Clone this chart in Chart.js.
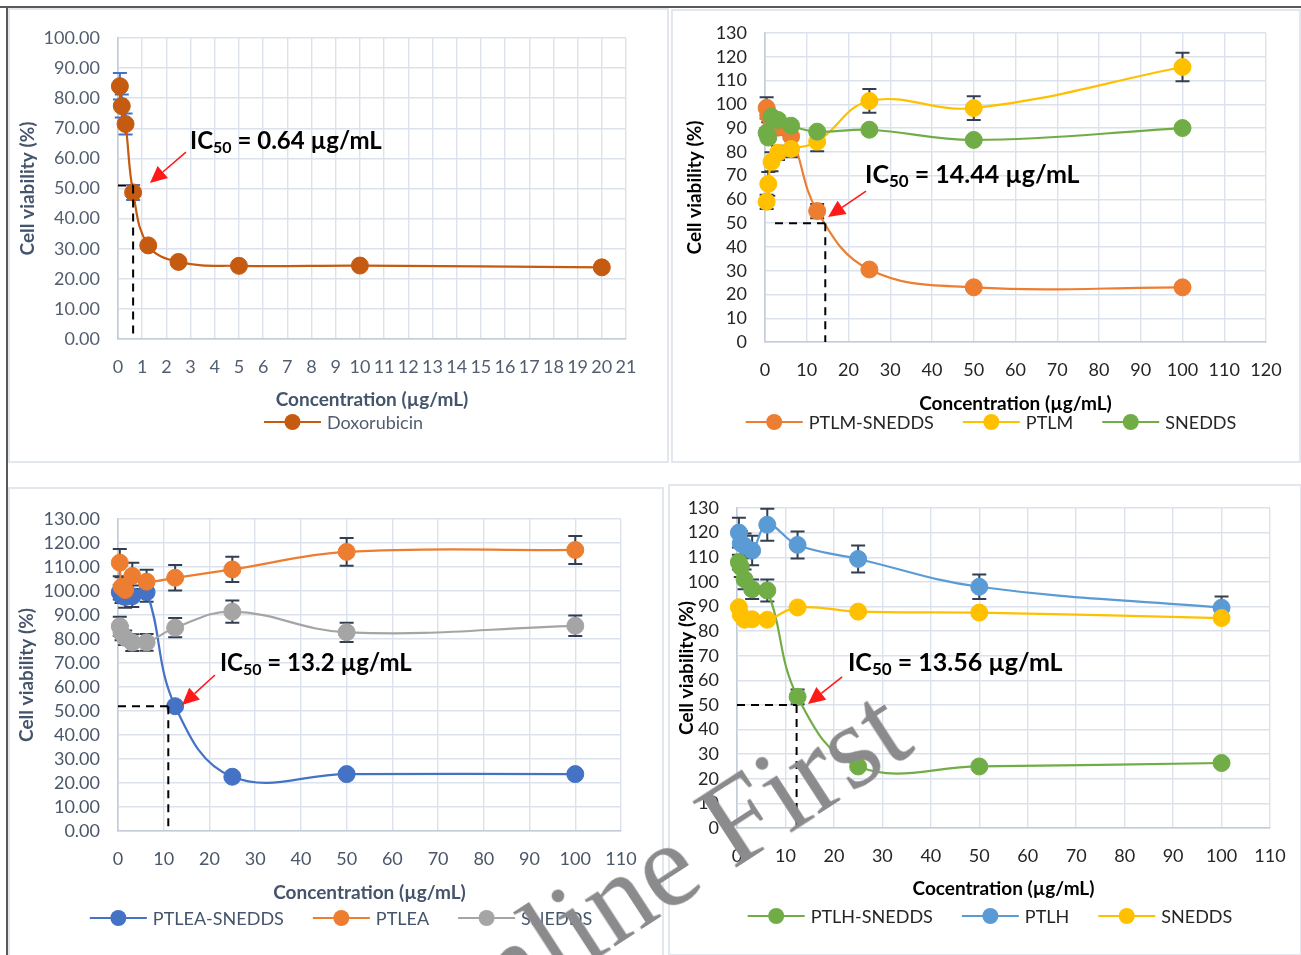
<!DOCTYPE html>
<html><head><meta charset="utf-8">
<script src="https://cdn.jsdelivr.net/npm/chart.js@4.4.1/dist/chart.umd.min.js"></script>
<style>
html,body{margin:0;padding:0;background:#fff;}
body{width:1301px;height:955px;position:relative;overflow:hidden;}
.pane{position:absolute;}
#frameTop{position:absolute;left:0;top:6px;width:1301px;height:2px;background:#595959;}
#frameLeft{position:absolute;left:6px;top:6px;width:2px;height:949px;background:#595959;}
#wm{position:absolute;left:434px;top:964px;font-family:"Liberation Serif","DejaVu Serif",serif;font-size:120px;line-height:1;color:#8b8b8d;white-space:nowrap;transform-origin:0 100.5px;transform:rotate(-33deg);pointer-events:none;}
</style>
</head><body>
<div id="frameTop"></div><div id="frameLeft"></div>
<div class="pane" style="left:8px;top:8px;width:661px;height:455px"><canvas id="c1" width="661" height="455"></canvas></div>
<div class="pane" style="left:671px;top:9px;width:630px;height:454px"><canvas id="c2" width="630" height="454"></canvas></div>
<div class="pane" style="left:8px;top:487px;width:656px;height:470px"><canvas id="c3" width="656" height="470"></canvas></div>
<div class="pane" style="left:668px;top:484px;width:634px;height:472px"><canvas id="c4" width="634" height="472"></canvas></div>
<div id="wm">Online First</div>
<script>
// ---------------- DATA ----------------
const doxConc = [0.078, 0.156, 0.3125, 0.625, 1.25, 2.5, 5, 10, 20];
const doxViability = [84.0, 77.4, 71.4, 48.7, 31.1, 25.6, 24.3, 24.4, 23.8];
const doxError = [4.4, 3.8, 3.5, 2.5, 0, 0, 0, 0, 0];

const conc = [0.39, 0.78, 1.56, 3.125, 6.25, 12.5, 25, 50, 100];

const ptlmSnedds = [98.5, 95.5, 92.0, 90.2, 86.5, 55.1, 30.5, 23.0, 23.0];
const ptlmSneddsErr = [4.5, 3, 3, 3, 4, 3, 0, 0, 0];
const ptlm = [59.0, 66.5, 75.8, 79.6, 81.2, 84.3, 101.4, 98.4, 115.7];
const ptlmErr = [3, 5, 4, 3, 3.5, 4, 5, 5, 6];
const sneddsM = [88.0, 86.0, 94.8, 93.4, 91.0, 88.5, 89.3, 85.0, 90.0];
const sneddsMErr = [2, 2, 2, 2, 2, 0, 0, 0, 0];

const ptleaSnedds = [99.5, 98.0, 97.5, 97.8, 99.5, 52.0, 22.6, 23.7, 23.7];
const ptleaSneddsErr = [3, 3, 4.5, 4.5, 4, 0, 0, 0, 0];
const ptlea = [111.8, 101.7, 100.4, 106.3, 103.9, 105.5, 109.0, 116.3, 117.1];
const ptleaErr = [5.7, 4, 4, 5.5, 5, 5.3, 5.3, 5.8, 5.8];
const sneddsEA = [85.3, 82.5, 80.5, 78.5, 78.6, 84.7, 91.4, 82.8, 85.5];
const sneddsEAErr = [4, 3, 3, 3.5, 3.5, 4, 4.6, 4, 4.3];

const ptlhSnedds = [108.0, 106.0, 101.0, 97.0, 96.5, 53.3, 25.0, 25.0, 26.4];
const ptlhSneddsErr = [3, 4, 4, 4, 4.5, 3, 0, 0, 0];
const ptlh = [120.0, 115.7, 114.6, 112.7, 123.2, 115.0, 109.3, 98.0, 89.5];
const ptlhErr = [6, 5, 5, 6, 6.5, 5.5, 5.5, 5, 4.5];
const sneddsH = [89.7, 86.6, 84.6, 84.8, 84.6, 89.6, 87.9, 87.5, 85.3];
const sneddsHErr = [1, 1, 1, 1, 1, 1, 1, 1, 1];

const ic50Values = ['0.64', '14.44', '13.2', '13.56'];
const yTitle = 'Cell viability (%)';
const xTitles = ['Concentration (µg/mL)', 'Concentration (µg/mL)', 'Concentration (µg/mL)', 'Cocentration (µg/mL)'];

// ---------------- STYLE / PLUGINS ----------------
const FONT = "Lato, 'Open Sans', sans-serif";
Chart.defaults.font.family = FONT;
Chart.defaults.animation = false;

const panelPlugin = {
  id: 'panelBox',
  beforeDraw(chart) {
    const c = chart.ctx;
    c.save();
    c.fillStyle = '#fff';
    c.fillRect(0, 0, chart.width, chart.height);
    c.strokeStyle = '#e2e7ee';
    c.lineWidth = 2;
    c.strokeRect(1, 1, chart.width - 2, chart.height - 2);
    c.restore();
  }
};

const errorPlugin = {
  id: 'errBars',
  beforeDatasetsDraw(chart, args, opts) {
    const c = chart.ctx, xs = chart.scales.x, ys = chart.scales.y;
    c.save();
    c.strokeStyle = opts.color;
    c.lineWidth = 2;
    chart.data.datasets.forEach(ds => {
      if (!ds.errorBars) return;
      ds.data.forEach((p, i) => {
        const e = ds.errorBars[i];
        if (!e) return;
        const px = xs.getPixelForValue(p.x);
        const y1 = ys.getPixelForValue(p.y + e), y2 = ys.getPixelForValue(p.y - e);
        c.beginPath();
        c.moveTo(px, y1); c.lineTo(px, y2);
        c.moveTo(px - 7, y1); c.lineTo(px + 7, y1);
        c.moveTo(px - 7, y2); c.lineTo(px + 7, y2);
        c.stroke();
      });
    });
    c.restore();
  }
};

const icPlugin = {
  id: 'ic50',
  afterDatasetsDraw(chart, args, o) {
    const c = chart.ctx, xs = chart.scales.x, ys = chart.scales.y;
    const X = v => xs.getPixelForValue(v), Y = v => ys.getPixelForValue(v);
    c.save();
    c.strokeStyle = '#000';
    c.lineWidth = 2;
    c.setLineDash([8, 6]);
    c.beginPath();
    c.moveTo(X(o.hx0), Y(o.level)); c.lineTo(X(o.vx), Y(o.level));
    c.moveTo(X(o.vx), Y(o.level)); c.lineTo(X(o.vx), Y(0));
    c.stroke();
    c.setLineDash([]);
    const tx = X(o.arrow[0]), ty = Y(o.arrow[1]), hx = X(o.arrow[2]), hy = Y(o.arrow[3]);
    const ang = Math.atan2(hy - ty, hx - tx);
    const hl = 17, hw = 8;
    const bx = hx - hl * Math.cos(ang), by = hy - hl * Math.sin(ang);
    c.strokeStyle = '#ff1a1a';
    c.fillStyle = '#ff1a1a';
    c.lineWidth = 1.6;
    c.beginPath(); c.moveTo(tx, ty); c.lineTo(bx, by); c.stroke();
    c.beginPath();
    c.moveTo(hx, hy);
    c.lineTo(bx + hw * Math.sin(ang), by - hw * Math.cos(ang));
    c.lineTo(bx - hw * Math.sin(ang), by + hw * Math.cos(ang));
    c.closePath(); c.fill();
    const fs = o.size;
    let x = X(o.textAt[0]);
    const base = Y(o.textAt[1]) + fs * 0.36;
    c.fillStyle = '#000';
    c.textBaseline = 'alphabetic';
    c.textAlign = 'left';
    c.font = `bold ${fs}px ${FONT}`;
    c.fillText('IC', x, base); x += c.measureText('IC').width;
    c.font = `bold ${Math.round(fs * 0.68)}px ${FONT}`;
    c.fillText('50', x, base + fs * 0.17); x += c.measureText('50').width;
    c.font = `bold ${fs}px ${FONT}`;
    c.fillText(' = ' + o.value + ' µg/mL', x, base);
    c.restore();
  }
};

const legendPlugin = {
  id: 'xlLegend',
  afterDraw(chart, args, o) {
    const c = chart.ctx;
    c.save();
    c.font = `${o.size}px ${FONT}`;
    const items = chart.data.datasets.map(ds => ({label: ds.label, color: ds.borderColor, w: c.measureText(ds.label).width}));
    const lineLen = 57, gapText = 6, gapItem = 29;
    const total = items.reduce((s, it) => s + lineLen + gapText + it.w, 0) + gapItem * (items.length - 1);
    let x = chart.width / 2 + 5 - total / 2;
    const y = o.y;
    items.forEach(it => {
      c.strokeStyle = it.color; c.lineWidth = 2.2;
      c.beginPath(); c.moveTo(x, y); c.lineTo(x + lineLen, y); c.stroke();
      c.fillStyle = it.color;
      c.beginPath(); c.arc(x + lineLen / 2, y, 8, 0, Math.PI * 2); c.fill();
      c.fillStyle = o.color; c.textBaseline = 'middle'; c.textAlign = 'left';
      c.fillText(it.label, x + lineLen + gapText, y + 1);
      x += lineLen + gapText + it.w + gapItem;
    });
    c.restore();
  }
};

function series(label, xsArr, ysArr, errArr, color, order) {
  return {
    label, data: xsArr.map((x, i) => ({x, y: ysArr[i]})), errorBars: errArr,
    borderColor: color, backgroundColor: color, pointBackgroundColor: color, pointBorderColor: color,
    pointRadius: 8.5, pointBorderWidth: 1, borderWidth: 2.2, tension: 0.4, order, clip: false
  };
}

function build(id, p) {
  const tickFont = {size: 18, family: FONT};
  const titleFont = {size: 19, weight: 'bold', family: FONT};
  new Chart(document.getElementById(id), {
    type: 'line',
    data: {datasets: p.datasets},
    plugins: [panelPlugin, errorPlugin, icPlugin, legendPlugin],
    options: {
      responsive: false, devicePixelRatio: 1, animation: false,
      layout: {padding: {left: p.lay[0], top: p.lay[2], right: p.lay[3], bottom: p.lay[5]}},
      plugins: {
        legend: {display: false}, tooltip: {enabled: false},
        errBars: {color: p.errColor},
        ic50: p.ic,
        xlLegend: {y: p.legendY, color: p.legendColor, size: 18}
      },
      scales: {
        x: {
          type: 'linear', min: 0, max: p.xMax,
          afterFit: s => { s.height = p.lay[4]; },
          ticks: {stepSize: p.xStep, autoSkip: false, maxTicksLimit: 40, maxRotation: 0, minRotation: 0, padding: 0, color: p.tickColor, font: tickFont},
          grid: {color: '#dbe2ec', lineWidth: 1.4, drawTicks: true, tickLength: 17, tickColor: 'rgba(0,0,0,0)'},
          border: {color: '#c3ccd8', width: 1.6},
          title: {display: true, text: p.xTitle, color: p.titleColor, font: titleFont, padding: 0}
        },
        y: {
          min: 0, max: p.yMax,
          afterFit: s => { s.width = p.lay[1]; },
          ticks: {stepSize: 10, autoSkip: false, maxTicksLimit: 40, padding: 0, color: p.tickColor, font: tickFont,
                  callback: v => v.toFixed(p.dec)},
          grid: {color: '#dbe2ec', lineWidth: 1.4, drawTicks: true, tickLength: 18, tickColor: 'rgba(0,0,0,0)'},
          border: {color: '#c3ccd8', width: 1.6},
          title: {display: true, text: yTitle, color: p.titleColor, font: titleFont, padding: 0}
        }
      }
    }
  });
}

build('c1', {
  datasets: [series('Doxorubicin', doxConc, doxViability, doxError, '#c55a11', 1)],
  lay: [8.6, 101.4, 30, 43, 72.4, 51.6], xMax: 21, xStep: 1, yMax: 100, dec: 2,
  tickColor: '#525e70', titleColor: '#44546a', legendColor: '#525e70', legendY: 414,
  errColor: '#4472c4', xTitle: xTitles[0],
  ic: {hx0: 0, vx: 0.625, level: 51, arrow: [2.81, 62.1, 1.32, 51.8], textAt: [2.98, 66], value: ic50Values[0], size: 24}
});

build('c2', {
  datasets: [
    series('PTLM-SNEDDS', conc, ptlmSnedds, ptlmSneddsErr, '#ed7d31', 3),
    series('PTLM', conc, ptlm, ptlmErr, '#ffc000', 2),
    series('SNEDDS', conc, sneddsM, sneddsMErr, '#70ad47', 1)
  ],
  lay: [12.6, 81.4, 24, 35, 73.4, 47.6], xMax: 120, xStep: 10, yMax: 130, dec: 0,
  tickColor: '#262626', titleColor: '#000', legendColor: '#262626', legendY: 413,
  errColor: '#333f50', xTitle: xTitles[1],
  ic: {hx0: 2.4, vx: 14.44, level: 50, arrow: [24.2, 63.5, 15.1, 52.6], textAt: [23.95, 70.7], value: ic50Values[1], size: 25}
});

build('c3', {
  datasets: [
    series('PTLEA-SNEDDS', conc, ptleaSnedds, ptleaSneddsErr, '#4472c4', 3),
    series('PTLEA', conc, ptlea, ptleaErr, '#ed7d31', 2),
    series('SNEDDS', conc, sneddsEA, sneddsEAErr, '#a5a5a5', 1)
  ],
  lay: [7.6, 102.4, 32, 43, 73.4, 52.6], xMax: 110, xStep: 10, yMax: 130, dec: 2,
  tickColor: '#4a566a', titleColor: '#44546a', legendColor: '#44546a', legendY: 431,
  errColor: '#333f50', xTitle: xTitles[2],
  ic: {hx0: 0, vx: 11, level: 52, arrow: [21.2, 65, 14.0, 52.5], textAt: [22.3, 70.4], value: ic50Values[2], size: 24}
});

build('c4', {
  datasets: [
    series('PTLH-SNEDDS', conc, ptlhSnedds, ptlhSneddsErr, '#70ad47', 3),
    series('PTLH', conc, ptlh, ptlhErr, '#5b9bd5', 2),
    series('SNEDDS', conc, sneddsH, sneddsHErr, '#ffc000', 1)
  ],
  lay: [7.6, 61.4, 24, 32, 72.4, 55.6], xMax: 110, xStep: 10, yMax: 130, dec: 0,
  tickColor: '#262626', titleColor: '#000', legendColor: '#262626', legendY: 432,
  errColor: '#333f50', xTitle: xTitles[3],
  ic: {hx0: 0, vx: 12.3, level: 50, arrow: [21.7, 61.4, 14.65, 50.4], textAt: [22.9, 67.5], value: ic50Values[3], size: 25}
});
</script>
</body></html>
